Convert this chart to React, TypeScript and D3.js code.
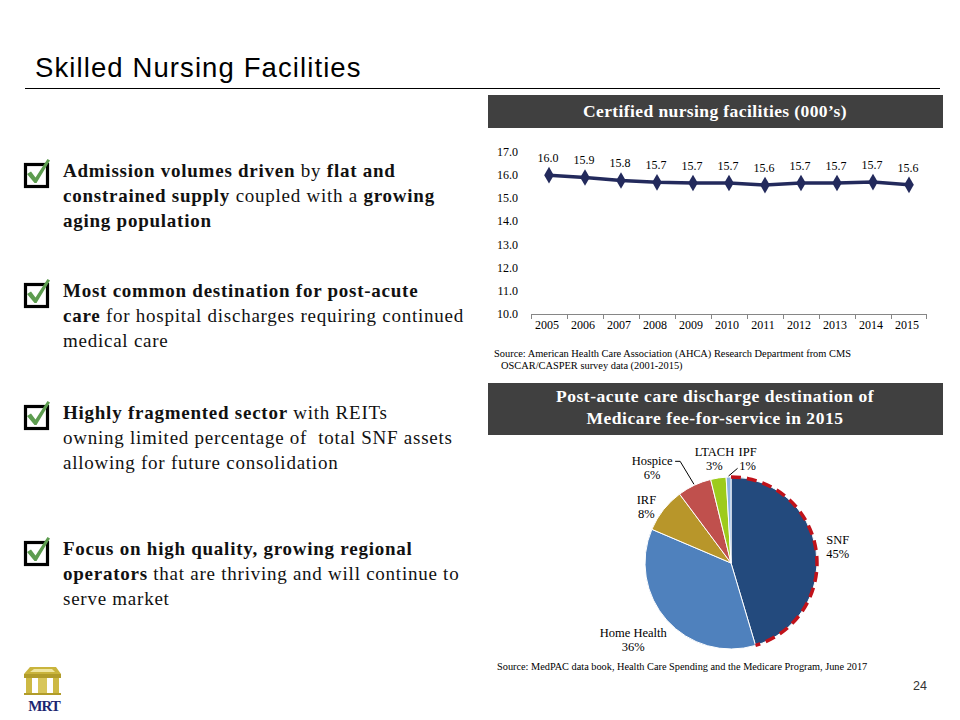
import React from 'react';
import * as d3 from 'd3';

// ---------- data ----------
const years = ['2005', '2006', '2007', '2008', '2009', '2010', '2011', '2012', '2013', '2014', '2015'];
const facilities = [16.0, 15.9, 15.77, 15.69, 15.66, 15.66, 15.57, 15.66, 15.66, 15.7, 15.58];
const yTicks = [10, 11, 12, 13, 14, 15, 16, 17];

const destinations = ['SNF', 'Home Health', 'IRF', 'Hospice', 'LTACH', 'IPF'];
const shares = [45.4, 36.0, 8.4, 6.4, 2.9, 0.9];
const sliceColors = ['#234a7d', '#4f81bd', '#b8962a', '#c0504d', '#9dcb1c', '#8db3e2'];

type Seg = [string, boolean];
const bullets: Seg[][][] = [
  [
    [['Admission volumes driven', true], [' by ', false], ['flat and', true]],
    [['constrained supply', true], [' coupled with a ', false], ['growing', true]],
    [['aging population', true]],
  ],
  [
    [['Most common destination for post-acute', true]],
    [['care', true], [' for hospital discharges requiring continued', false]],
    [['medical care', false]],
  ],
  [
    [['Highly fragmented sector', true], [' with REITs', false]],
    [['owning limited percentage of  total SNF assets', false]],
    [['allowing for future consolidation', false]],
  ],
  [
    [['Focus on high quality, growing regional', true]],
    [['operators', true], [' that are thriving and will continue to', false]],
    [['serve market', false]],
  ],
];
const bulletTops = [177, 297, 419, 555];

// ---------- layout ----------
const SERIF = '"Liberation Serif", "Times New Roman", serif';
const SANS = '"Liberation Sans", Arial, sans-serif';

const lc = { x0: 531, x1: 927, yTop: 152, yBot: 314 };
const pie = { cx: 731, cy: 563, r: 86 };
// polar label placement (deg clockwise from top, radius)
const labelPolar: [number, number][] = [
  [81, 108],
  [232, 124],
  [304, 102],
  [320.5, 124],
  [351, 106],
  [9, 106],
];

function polar(a: number, r: number): [number, number] {
  return [pie.cx + r * Math.sin(a), pie.cy - r * Math.cos(a)];
}

function CheckBox({ x, y }: { x: number; y: number }) {
  return (
    <g transform={`translate(${x},${y})`}>
      <rect x={1.5} y={1.5} width={22} height={22} fill="#fff" stroke="#000" strokeWidth={3.2} />
      <path d="M3,11 L7,8.5 L11.5,14.5 L23.5,-4 L26,-2.5 L12.5,20 L10.5,20 Z" fill="#5d9c4f" />
    </g>
  );
}

export default function App() {
  const x = d3.scaleBand<string>().domain(years).range([lc.x0, lc.x1]);
  const y = d3.scaleLinear().domain([10, 17]).range([lc.yBot, lc.yTop]);
  const cxOf = (i: number) => (x(years[i]) as number) + x.bandwidth() / 2;
  const line = d3
    .line<number>()
    .x((_, i) => cxOf(i))
    .y((d) => y(d));
  const fmt1 = d3.format('.1f');
  const diamond = d3.symbol(d3.symbolDiamond, 80)() as string;

  const pieGen = d3.pie<number>().sort(null).startAngle(0).endAngle(2 * Math.PI);
  const arcs = pieGen(shares);
  const arcGen = d3.arc<d3.PieArcDatum<number>>().innerRadius(0).outerRadius(pie.r);
  const outline = d3.arc<d3.PieArcDatum<number>>().innerRadius(pie.r).outerRadius(pie.r);
  const fmtPct = (v: number) => d3.format('.0f')(v) + '%';

  const mid = (a: d3.PieArcDatum<number>) => (a.startAngle + a.endAngle) / 2;
  const hospA = polar(mid(arcs[3]), 87);
  const ipfA = polar(mid(arcs[5]), 87);
  const hospL = polar((labelPolar[3][0] * Math.PI) / 180, labelPolar[3][1]);
  const ipfL = polar((labelPolar[5][0] * Math.PI) / 180, labelPolar[5][1]);

  return (
    <svg
      width={960}
      height={720}
      style={{ position: 'absolute', left: 0, top: 0, background: '#fff' }}
    >
      <rect width={960} height={720} fill="#fff" />
      {/* title */}
      <text x={35} y={77} fontFamily={SANS} fontSize={27.5} letterSpacing={1.1} fill="#000">
        Skilled Nursing Facilities
      </text>
      <line x1={25} x2={940} y1={88.5} y2={88.5} stroke="#000" strokeWidth={1} />

      {/* bullets */}
      {bullets.map((lines, bi) => (
        <g key={bi}>
          <CheckBox x={24} y={bulletTops[bi] - 14} />
          {lines.map((segs, li) => (
            <text
              key={li}
              x={63}
              y={bulletTops[bi] + li * 25}
              fontFamily={SERIF}
              fontSize={19}
              letterSpacing={0.75}
              fill="#111"
              style={{ whiteSpace: 'pre' }}
            >
              {segs.map(([t, b], si) => (
                <tspan key={si} fontWeight={b ? 'bold' : 'normal'}>
                  {t}
                </tspan>
              ))}
            </text>
          ))}
        </g>
      ))}

      {/* header 1 */}
      <rect x={488} y={95} width={455} height={33} fill="#404040" />
      <text x={715} y={117} textAnchor="middle" fontFamily={SERIF} fontSize={17.5} letterSpacing={0.4} fontWeight="bold" fill="#fff">
        Certified nursing facilities (000’s)
      </text>

      {/* line chart */}
      <g fontFamily={SERIF} fontSize={12} fill="#000">
        {yTicks.map((t) => (
          <text key={t} x={518} y={y(t) + 4} textAnchor="end">
            {fmt1(t)}
          </text>
        ))}
        <line x1={lc.x0} x2={lc.x1} y1={lc.yBot + 0.5} y2={lc.yBot + 0.5} stroke="#868686" />
        {years.map((yr, i) => (
          <line
            key={'t' + i}
            x1={(x(yr) as number) + 0.5}
            x2={(x(yr) as number) + 0.5}
            y1={lc.yBot}
            y2={lc.yBot + 5}
            stroke="#868686"
          />
        ))}
        <line x1={lc.x1 - 0.5} x2={lc.x1 - 0.5} y1={lc.yBot} y2={lc.yBot + 5} stroke="#868686" />
        {years.map((yr, i) => (
          <text key={yr} x={cxOf(i) - 2} y={lc.yBot + 15} textAnchor="middle">
            {yr}
          </text>
        ))}
        <path d={line(facilities) as string} fill="none" stroke="#232a5c" strokeWidth={3.5} />
        {facilities.map((v, i) => (
          <g key={i}>
            <path d={diamond} transform={`translate(${cxOf(i)},${y(v)})`} fill="#232a5c" />
            <text x={cxOf(i) - 1} y={y(v) - 13} textAnchor="middle">
              {fmt1(v)}
            </text>
          </g>
        ))}
      </g>
      <g fontFamily={SERIF} fontSize={10.4} fill="#000">
        <text x={494} y={357}>Source: American Health Care Association (AHCA) Research Department from CMS</text>
        <text x={501} y={369}>OSCAR/CASPER survey data (2001-2015)</text>
      </g>

      {/* header 2 */}
      <rect x={488} y={383} width={455} height={52} fill="#404040" />
      <g fontFamily={SERIF} fontSize={17.5} letterSpacing={0.55} fontWeight="bold" fill="#fff" textAnchor="middle">
        <text x={715} y={402}>Post-acute care discharge destination of</text>
        <text x={715} y={424}>Medicare fee-for-service in 2015</text>
      </g>

      {/* pie */}
      <g transform={`translate(${pie.cx},${pie.cy})`}>
        {arcs.map((a, i) => (
          <path key={i} d={arcGen(a) as string} fill={sliceColors[i]} stroke="#fff" strokeWidth={1} />
        ))}
        <path
          d={outline(arcs[0]) as string}
          fill="none"
          stroke="#c0121a"
          strokeWidth={3.5}
          strokeDasharray="10 6"
        />
      </g>
      <g fontFamily={SERIF} fontSize={12.5} fill="#000" textAnchor="middle">
        {destinations.map((d, i) => {
          const [lx, ly] = polar((labelPolar[i][0] * Math.PI) / 180, labelPolar[i][1]);
          return (
            <g key={d}>
              <text x={lx} y={ly - 2}>{d}</text>
              <text x={lx} y={ly + 12}>{fmtPct(shares[i])}</text>
            </g>
          );
        })}
      </g>
      <polyline
        points={`${hospL[0] + 23},${hospL[1] - 6} ${hospL[0] + 28},${hospL[1] - 6} ${hospA[0]},${hospA[1]}`}
        fill="none"
        stroke="#000"
        strokeWidth={1}
      />
      <polyline
        points={`${ipfL[0] - 10},${ipfL[1] + 10} ${ipfA[0]},${ipfA[1]}`}
        fill="none"
        stroke="#000"
        strokeWidth={1}
      />
      <text x={497} y={670} fontFamily={SERIF} fontSize={10.3} fill="#000">
        Source: MedPAC data book, Health Care Spending and the Medicare Program, June 2017
      </text>

      {/* page number */}
      <text x={920} y={690} textAnchor="middle" fontFamily={SANS} fontSize={12.5} fill="#333">
        24
      </text>

      {/* logo */}
      <g>
        <path d="M30,667 L56,667 L61,674 L24,674 Z" fill="#c9b43c" />
        <path d="M34,669 L52,669 L55,672 L30,672 Z" fill="#efe6a0" />
        <rect x={24} y={674} width={37} height={4} fill="#b19c2a" />
        <rect x={26} y={678} width={6} height={16} fill="#cdb944" />
        <rect x={38} y={678} width={9} height={16} fill="#d8c65a" />
        <rect x={53} y={678} width={6} height={16} fill="#cdb944" />
        <rect x={24} y={693} width={37} height={2} fill="#b19c2a" />
        <text x={44} y={711} textAnchor="middle" fontFamily={SERIF} fontWeight="bold" fontSize={15} fill="#1c2670" letterSpacing={-1}>
          MRT
        </text>
      </g>
    </svg>
  );
}
